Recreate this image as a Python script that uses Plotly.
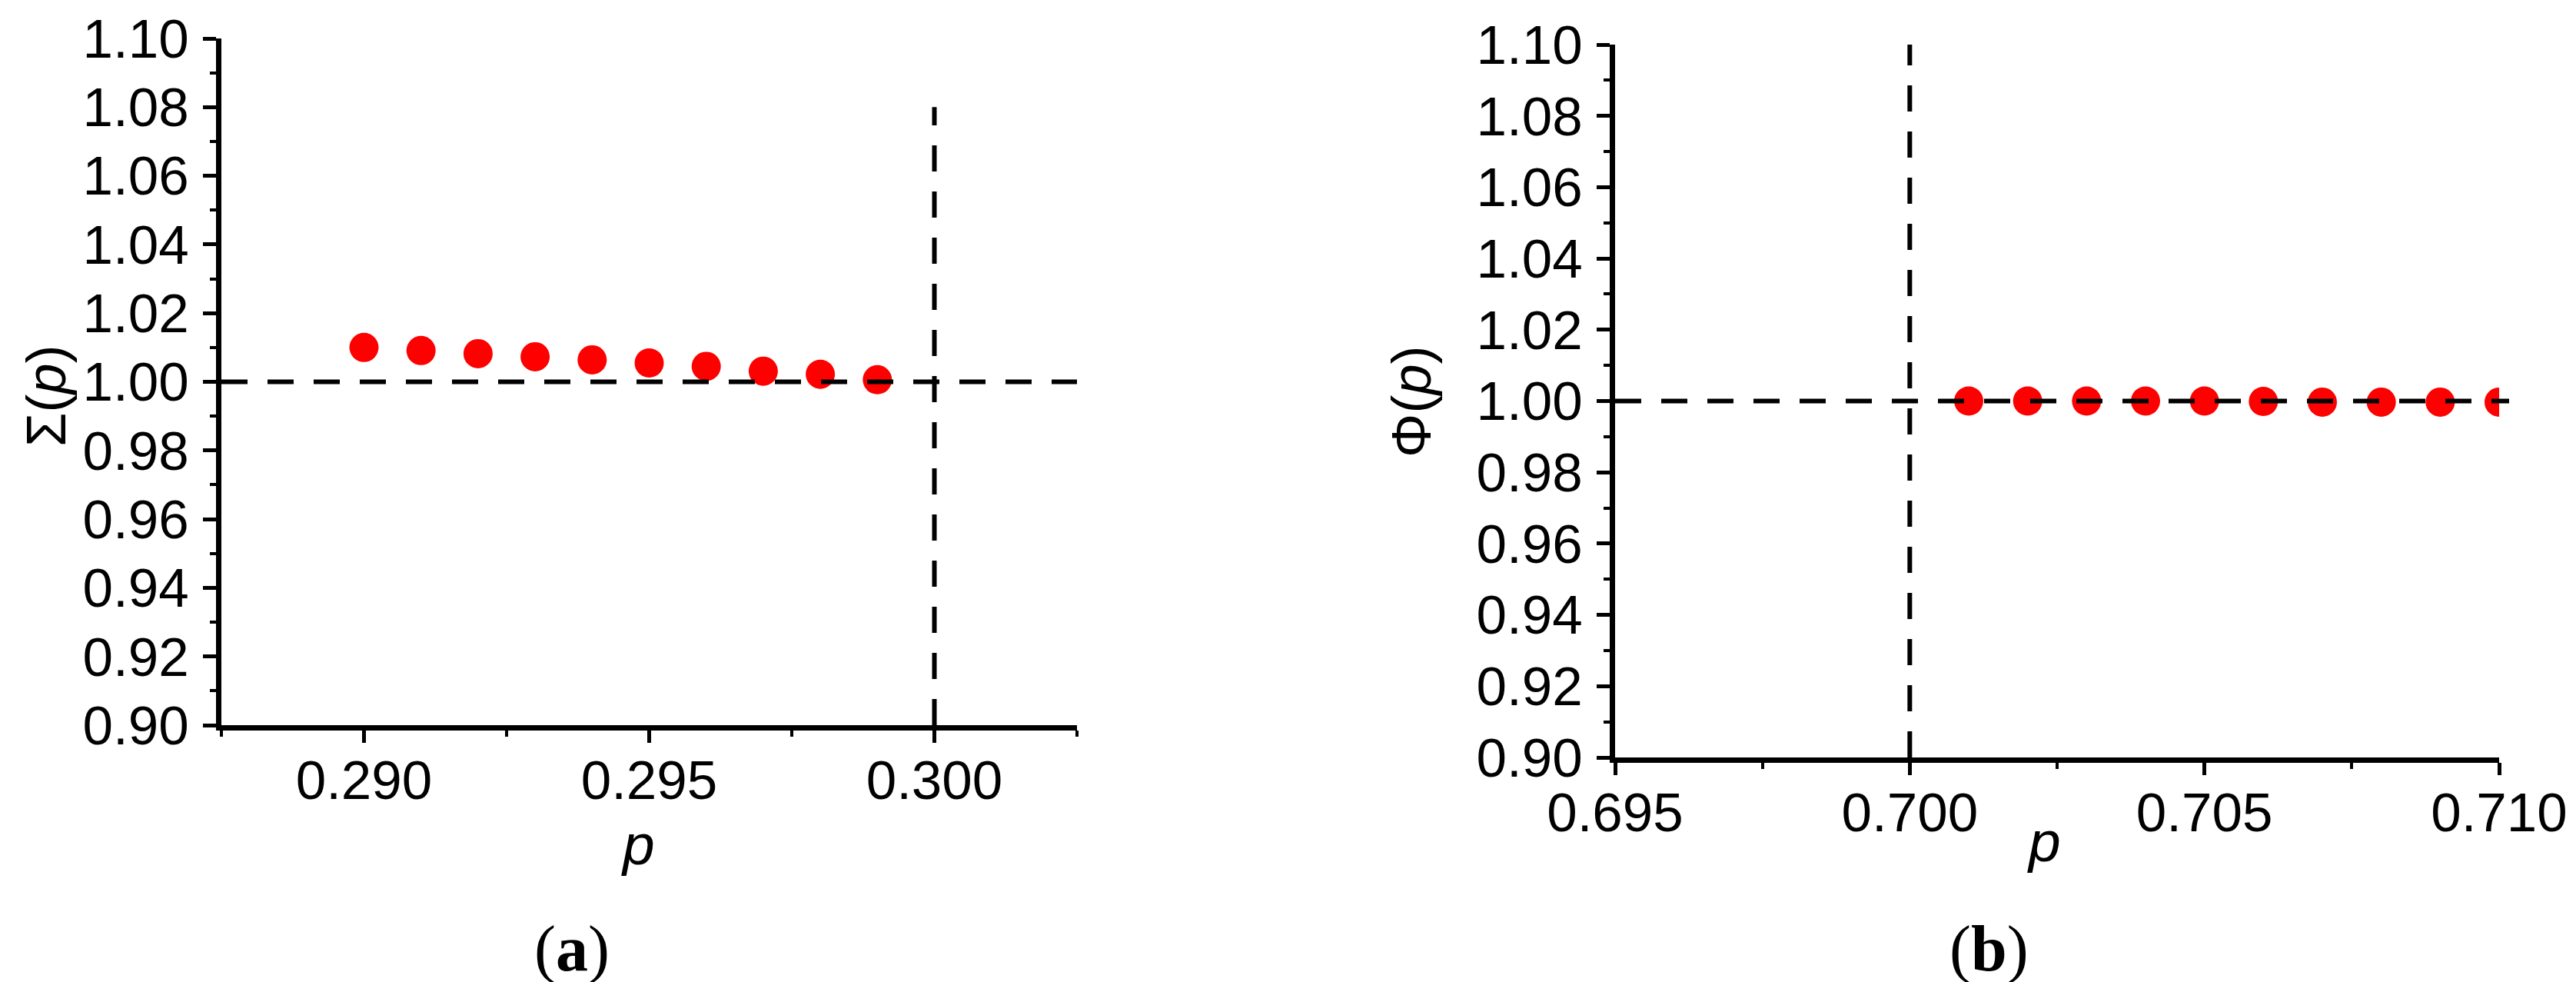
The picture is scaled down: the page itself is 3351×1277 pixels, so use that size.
import plotly.graph_objects as go

# ---------------- data ----------------
p_a = [0.290, 0.291, 0.292, 0.293, 0.294, 0.295, 0.296, 0.297, 0.298, 0.299]
sigma_a = [1.0100, 1.0091, 1.0082, 1.0073, 1.0064, 1.0055, 1.0045, 1.0031, 1.0022, 1.0006]

p_b = [0.701, 0.702, 0.703, 0.704, 0.705, 0.706, 0.707, 0.708, 0.709, 0.710]
phi_b = [1.0000, 1.0000, 1.0000, 1.0000, 1.0000, 0.9999, 0.9997, 0.9997, 0.9997, 0.9997]

y_tick_vals = [0.90, 0.92, 0.94, 0.96, 0.98, 1.00, 1.02, 1.04, 1.06, 1.08, 1.10]
y_tick_text = ["0.90", "0.92", "0.94", "0.96", "0.98", "1.00", "1.02", "1.04", "1.06", "1.08", "1.10"]
x_tick_vals_a = [0.290, 0.295, 0.300]
x_tick_text_a = ["0.290", "0.295", "0.300"]
x_tick_vals_b = [0.695, 0.700, 0.705, 0.710]
x_tick_text_b = ["0.695", "0.700", "0.705", "0.710"]

ref_level = 1.00          # horizontal dashed reference
crit_a = 0.300            # vertical dashed line, panel (a)
crit_a_top = 1.08
crit_b = 0.700            # vertical dashed line, panel (b)
crit_b_top = 1.10

x_range_a = [0.2875, 0.3025]
x_range_b = [0.695, 0.710]
y_range = [0.90, 1.10]

# ---------------- figure ----------------
W, H = 3351, 1277
TICK_FONT = dict(family="Liberation Sans, Arial, sans-serif", size=71, color="black")
RED = "#ff0000"

fig = go.Figure()
fig.add_trace(go.Scatter(x=p_a, y=sigma_a, mode="markers", xaxis="x", yaxis="y",
                         marker=dict(size=38, color=RED, line=dict(width=0)),
                         showlegend=False))
fig.add_trace(go.Scatter(x=p_b, y=phi_b, mode="markers", xaxis="x2", yaxis="y2",
                         marker=dict(size=38, color=RED, line=dict(width=0)),
                         showlegend=False))

def px_x(v):
    return v / W

def px_y(v):
    return 1 - v / H

common_x = dict(showgrid=False, zeroline=False, showline=True, linecolor="black", linewidth=7,
                ticks="outside", ticklen=16, tickwidth=5, tickcolor="black",
                tickfont=TICK_FONT, ticklabelstandoff=-12, mirror=False, automargin=False)
common_y = dict(showgrid=False, zeroline=False, showline=True, linecolor="black", linewidth=7,
                ticks="outside", ticklen=17, tickwidth=5, tickcolor="black",
                tickfont=TICK_FONT, ticklabelstandoff=4, mirror=False, automargin=False,
                tickmode="array", tickvals=y_tick_vals, ticktext=y_tick_text,
                range=y_range,
                minor=dict(ticks="outside", ticklen=8, tickwidth=4, tickcolor="black", dtick=0.01))

fig.update_layout(
    width=W, height=H,
    margin=dict(l=0, r=0, t=0, b=0, autoexpand=False),
    paper_bgcolor="white", plot_bgcolor="white",
    xaxis=dict(domain=[px_x(280), px_x(1393)], anchor="y", range=x_range_a,
               tickmode="array", tickvals=x_tick_vals_a, ticktext=x_tick_text_a,
               minor=dict(ticks="outside", ticklen=8, tickwidth=4, tickcolor="black",
                          tickvals=[0.2875, 0.2925, 0.2975, 0.3025]),
               **common_x),
    yaxis=dict(domain=[px_y(935), px_y(42)], anchor="x", **common_y),
    xaxis2=dict(domain=[px_x(2093), px_x(3243)], anchor="y2", range=x_range_b,
                tickmode="array", tickvals=x_tick_vals_b, ticktext=x_tick_text_b,
                minor=dict(ticks="outside", ticklen=8, tickwidth=4, tickcolor="black",
                           tickvals=[0.6975, 0.7025, 0.7075]),
                **common_x),
    yaxis2=dict(domain=[px_y(977), px_y(50)], anchor="x2", **common_y),
)

DASH = dict(color="black", width=6, dash="34px,26px")
shapes = [
    dict(type="line", xref="x", yref="y", x0=x_range_a[0], x1=x_range_a[1], y0=ref_level, y1=ref_level,
         line=DASH, layer="above"),
    dict(type="line", xref="x", yref="y", x0=crit_a, x1=crit_a, y0=y_range[0], y1=crit_a_top,
         line=DASH, layer="above"),
    # panel (b) reference line runs a little past the axis end, as in the original
    dict(type="line", xref="paper", yref="y2", x0=px_x(2093), x1=px_x(3256), y0=ref_level, y1=ref_level,
         line=DASH, layer="above"),
    dict(type="line", xref="x2", yref="y2", x0=crit_b, x1=crit_b, y0=y_range[0], y1=crit_b_top,
         line=DASH, layer="above"),
]
fig.update_layout(shapes=shapes)

TITLE_FONT = dict(family="Liberation Sans, Arial, sans-serif", size=72, color="black")
P_FONT = dict(family="Liberation Sans, Arial, sans-serif", size=75, color="black")
LABEL_FONT = dict(family="Liberation Serif, Times New Roman, serif", size=84, color="black")
annotations = [
    dict(text="Σ(<i>p</i>)", x=px_x(52), y=px_y(507), xref="paper", yref="paper",
         textangle=-90, showarrow=False, xanchor="center", yanchor="middle", font=TITLE_FONT),
    dict(text="Φ(<i>p</i>)", x=px_x(1828), y=px_y(515), xref="paper", yref="paper",
         textangle=-90, showarrow=False, xanchor="center", yanchor="middle", font=TITLE_FONT),
    dict(text="<i>p</i>", x=px_x(822), y=px_y(1090), xref="paper", yref="paper",
         showarrow=False, xanchor="center", yanchor="middle", font=P_FONT),
    dict(text="<i>p</i>", x=px_x(2651), y=px_y(1086), xref="paper", yref="paper",
         showarrow=False, xanchor="center", yanchor="middle", font=P_FONT),
    dict(text="(<b>a</b>)", x=px_x(736), y=px_y(1226), xref="paper", yref="paper",
         showarrow=False, xanchor="center", yanchor="middle", font=LABEL_FONT),
    dict(text="(<b>b</b>)", x=px_x(2579), y=px_y(1226), xref="paper", yref="paper",
         showarrow=False, xanchor="center", yanchor="middle", font=LABEL_FONT),
]
fig.update_layout(annotations=annotations)

fig.write_html("out.html")
